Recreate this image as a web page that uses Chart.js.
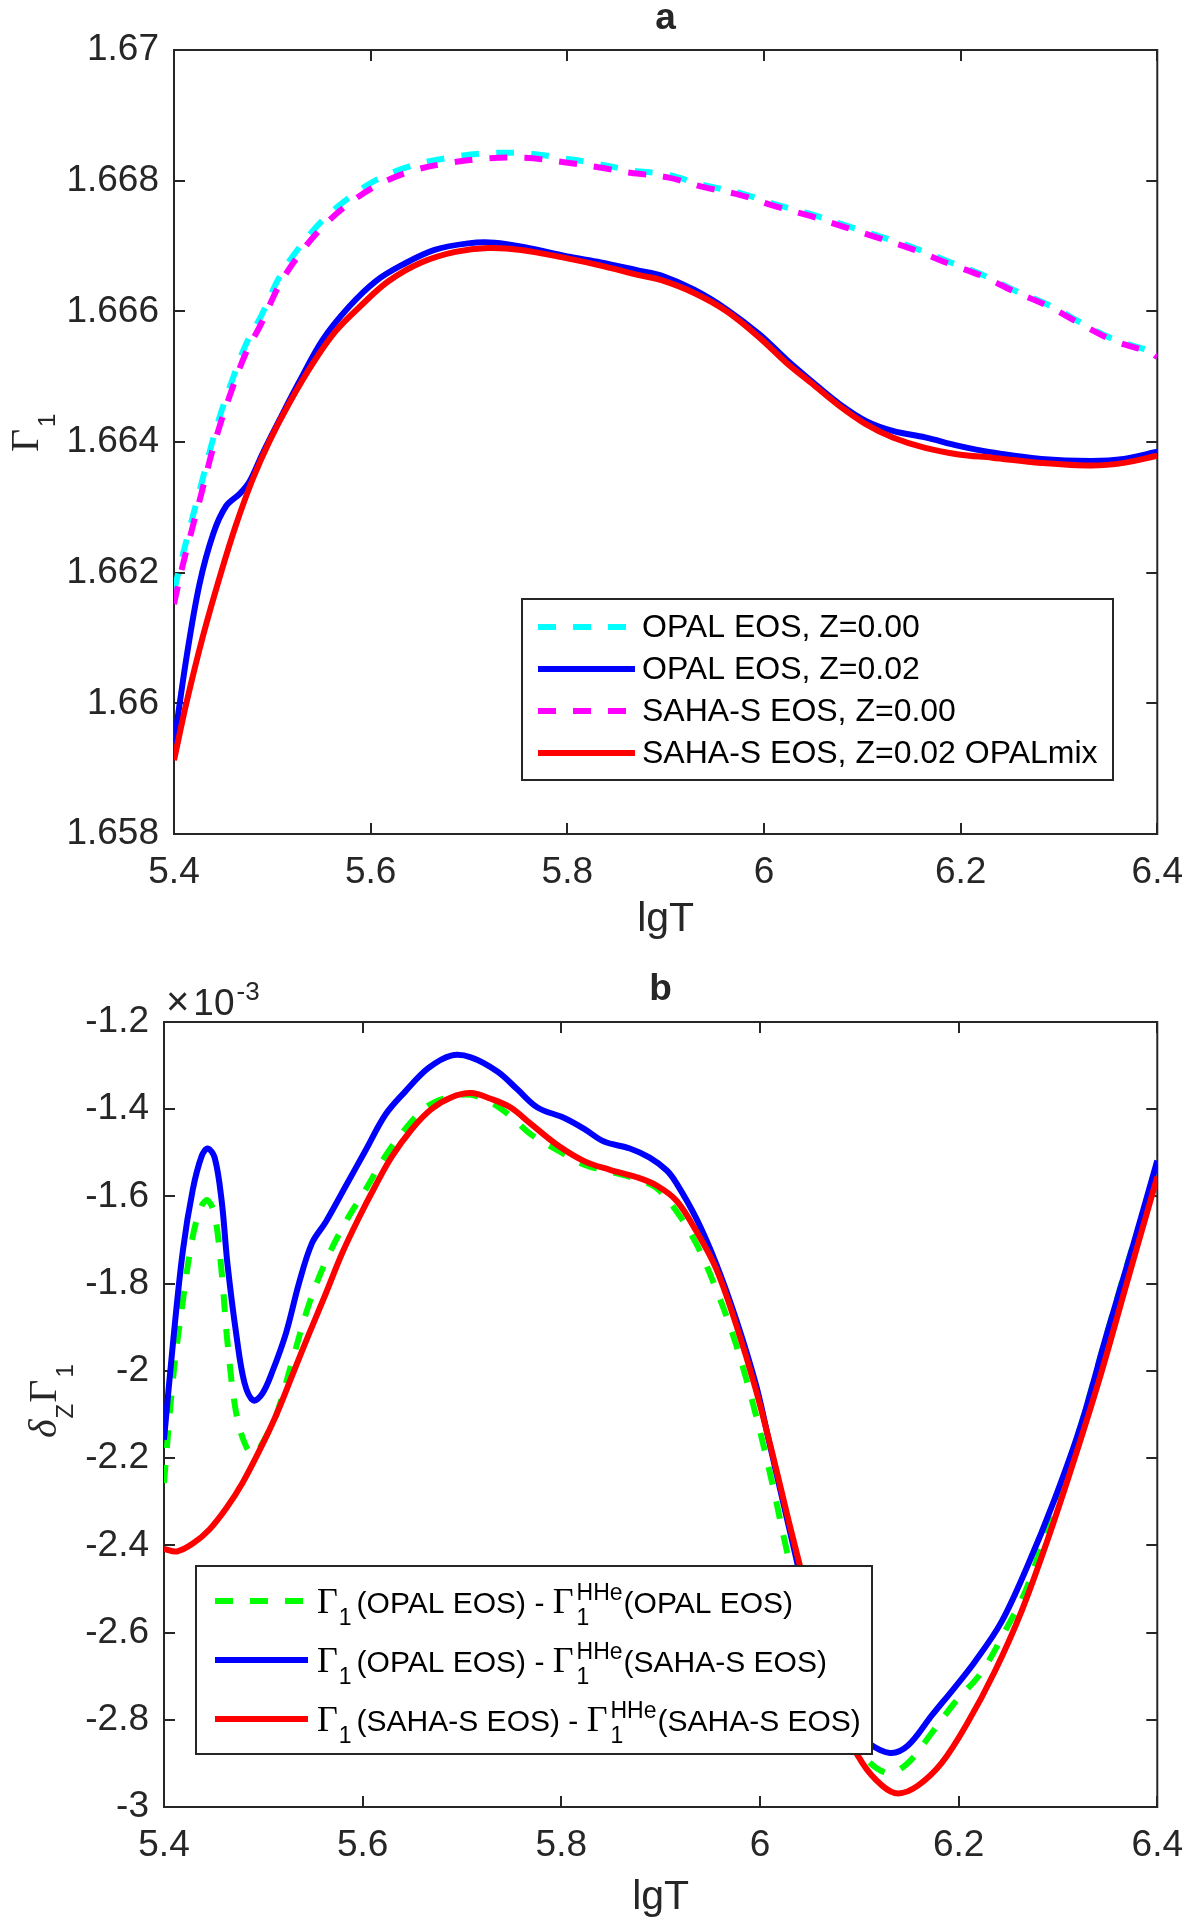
<!DOCTYPE html>
<html>
<head>
<meta charset="utf-8">
<title>Gamma1 vs lgT</title>
<script src="https://cdn.jsdelivr.net/npm/chart.js@4.4.1/dist/chart.umd.min.js"></script>
<style>
  html, body { margin: 0; padding: 0; background: #fff; }
  .panel { position: absolute; left: 0; width: 1200px; }
  #wrapA { top: 0; height: 960px; }
  #wrapB { top: 960px; height: 969px; }
</style>
</head>
<body>
<div class="panel" id="wrapA"><canvas id="chartA"></canvas></div>
<div class="panel" id="wrapB"><canvas id="chartB"></canvas></div>
<script>
// Two stacked MATLAB-style panels: (a) Gamma_1 vs lgT, (b) delta_Z Gamma_1 vs lgT.
// Values.

const SANS = '"Liberation Sans", Arial, Helvetica, sans-serif';
const SERIF = '"Liberation Serif", "Times New Roman", serif';
const INK = '#262626';

// ---- shared x axis ----
const X_TICKS = [5.4, 5.6, 5.8, 6.0, 6.2, 6.4];
const X_TICK_LABELS = ['5.4', '5.6', '5.8', '6', '6.2', '6.4'];

// ---- panel a ----
const A_Y_TICKS = [1.658, 1.660, 1.662, 1.664, 1.666, 1.668, 1.670];
const A_Y_TICK_LABELS = ['1.658', '1.66', '1.662', '1.664', '1.666', '1.668', '1.67'];
const A_LABELS = ['OPAL EOS, Z=0.00', 'OPAL EOS, Z=0.02', 'SAHA-S EOS, Z=0.00', 'SAHA-S EOS, Z=0.02 OPALmix'];

const A_LGT_Z0 = [5.400, 5.409, 5.428, 5.438, 5.448, 5.460, 5.473, 5.489, 5.507, 5.527, 5.551, 5.578,
    5.608, 5.642, 5.679, 5.719, 5.756, 5.793, 5.830, 5.864, 5.902, 5.939, 5.976, 6.011, 6.047, 6.082,
    6.117, 6.153, 6.188, 6.222, 6.255, 6.289, 6.323, 6.356, 6.393, 6.400];
const A_OPAL_Z0 = [1.66172, 1.66228, 1.66337, 1.66395, 1.66446, 1.66498, 1.66549, 1.66594, 1.66652, 1.66697,
    1.66739, 1.66774, 1.66803, 1.66823, 1.66835, 1.66842, 1.66842, 1.66835, 1.66826, 1.66816, 1.66809,
    1.66793, 1.66781, 1.66764, 1.66749, 1.66732, 1.66715, 1.66697, 1.66676, 1.66656, 1.66632, 1.66610,
    1.66582, 1.66557, 1.66539, 1.66532];
const A_SAHA_Z0 = [1.66152, 1.66212, 1.66322, 1.66381, 1.66432, 1.66485, 1.66536, 1.66582, 1.66640, 1.66686,
    1.66729, 1.66765, 1.66794, 1.66815, 1.66827, 1.66834, 1.66835, 1.66829, 1.66821, 1.66812, 1.66805,
    1.66790, 1.66778, 1.66761, 1.66746, 1.66729, 1.66712, 1.66694, 1.66673, 1.66654, 1.66630, 1.66608,
    1.66580, 1.66555, 1.66537, 1.66530];

const A_LGT_OPAL_Z2 = [5.400, 5.413, 5.426, 5.440, 5.453, 5.467, 5.477, 5.490, 5.507, 5.527, 5.551, 5.578,
    5.605, 5.632, 5.665, 5.699, 5.726, 5.760, 5.800, 5.834, 5.874, 5.895, 5.929, 5.962, 5.996, 6.023,
    6.050, 6.077, 6.104, 6.131, 6.164, 6.198, 6.232, 6.282, 6.333, 6.366, 6.400];
const A_OPAL_Z2 = [1.65938, 1.66073, 1.66183, 1.66260, 1.66302, 1.66321, 1.66340, 1.66382, 1.66433, 1.66491,
    1.66556, 1.66607, 1.66646, 1.66671, 1.66694, 1.66704, 1.66705, 1.66697, 1.66684, 1.66675, 1.66662,
    1.66655, 1.66633, 1.66603, 1.66564, 1.66526, 1.66491, 1.66458, 1.66432, 1.66417, 1.66407, 1.66394,
    1.66384, 1.66374, 1.66371, 1.66374, 1.66385];

const A_LGT_SAHA_Z2 = [5.400, 5.413, 5.430, 5.447, 5.463, 5.480, 5.497, 5.517, 5.541, 5.564, 5.591, 5.618,
    5.652, 5.686, 5.719, 5.753, 5.800, 5.834, 5.874, 5.895, 5.929, 5.962, 5.996, 6.023, 6.050, 6.077,
    6.104, 6.131, 6.164, 6.198, 6.232, 6.282, 6.333, 6.366, 6.400];
const A_SAHA_Z2 = [1.65913, 1.66003, 1.66106, 1.66196, 1.66273, 1.66343, 1.66401, 1.66459, 1.66520, 1.66569,
    1.66610, 1.66646, 1.66675, 1.66691, 1.66697, 1.66694, 1.66681, 1.66670, 1.66655, 1.66648, 1.66628,
    1.66600, 1.66559, 1.66521, 1.66488, 1.66455, 1.66427, 1.66407, 1.66391, 1.66381, 1.66376, 1.66368,
    1.66364, 1.66368, 1.66379];

// ---- panel b (values in units of 1e-3) ----
const B_Y_TICKS = [-3.0, -2.8, -2.6, -2.4, -2.2, -2.0, -1.8, -1.6, -1.4, -1.2];
const B_Y_TICK_LABELS = ['-3', '-2.8', '-2.6', '-2.4', '-2.2', '-2', '-1.8', '-1.6', '-1.4', '-1.2'];

const B_LGT_OO = [5.400, 5.409, 5.419, 5.429, 5.438, 5.444, 5.451, 5.458, 5.464, 5.473, 5.483, 5.491,
    5.499, 5.513, 5.529, 5.546, 5.563, 5.583, 5.603, 5.623, 5.643, 5.666, 5.689, 5.709, 5.729, 5.749,
    5.769, 5.796, 5.823, 5.849, 5.876, 5.896, 5.916, 5.936, 5.956, 5.976, 5.996, 6.013, 6.026, 6.039,
    6.063, 6.086, 6.106, 6.129, 6.149, 6.173, 6.196, 6.223, 6.249, 6.269, 6.296, 6.323, 6.349, 6.376, 6.400];
const B_OPAL_OPAL = [-2.257, -2.019, -1.839, -1.691, -1.621, -1.609, -1.642, -1.773, -1.937, -2.101, -2.175,
    -2.191, -2.166, -2.101, -1.978, -1.847, -1.748, -1.658, -1.584, -1.507, -1.445, -1.392, -1.371, -1.367,
    -1.384, -1.416, -1.457, -1.494, -1.527, -1.543, -1.560, -1.581, -1.634, -1.709, -1.813, -1.940, -2.102,
    -2.264, -2.402, -2.518, -2.691, -2.818, -2.888, -2.922, -2.899, -2.830, -2.761, -2.691, -2.587, -2.495,
    -2.310, -2.125, -1.917, -1.709, -1.547];

const B_LGT_OS = [5.400, 5.409, 5.419, 5.429, 5.438, 5.444, 5.451, 5.458, 5.464, 5.473, 5.481, 5.490,
    5.499, 5.509, 5.523, 5.536, 5.549, 5.563, 5.583, 5.603, 5.623, 5.643, 5.666, 5.689, 5.709, 5.736,
    5.756, 5.776, 5.803, 5.823, 5.843, 5.869, 5.889, 5.906, 5.916, 5.936, 5.956, 5.976, 5.996, 6.009,
    6.023, 6.036, 6.049, 6.069, 6.089, 6.109, 6.131, 6.149, 6.173, 6.196, 6.216, 6.243, 6.269, 6.296,
    6.323, 6.349, 6.376, 6.400];
const B_OPAL_SAHA = [-2.158, -1.937, -1.724, -1.584, -1.507, -1.490, -1.511, -1.609, -1.757, -1.920, -2.027,
    -2.068, -2.052, -2.002, -1.912, -1.798, -1.707, -1.658, -1.576, -1.494, -1.412, -1.359, -1.306, -1.277,
    -1.281, -1.314, -1.355, -1.396, -1.420, -1.445, -1.474, -1.490, -1.511, -1.540, -1.570, -1.651, -1.755,
    -1.882, -2.032, -2.160, -2.298, -2.425, -2.553, -2.703, -2.807, -2.853, -2.876, -2.859, -2.790, -2.726,
    -2.668, -2.576, -2.449, -2.298, -2.125, -1.917, -1.709, -1.518];

const B_LGT_SS = [5.400, 5.413, 5.429, 5.446, 5.463, 5.479, 5.496, 5.513, 5.529, 5.546, 5.563, 5.579,
    5.596, 5.613, 5.629, 5.649, 5.669, 5.689, 5.709, 5.729, 5.749, 5.769, 5.796, 5.823, 5.849, 5.876,
    5.896, 5.916, 5.936, 5.956, 5.976, 5.996, 6.013, 6.029, 6.043, 6.063, 6.083, 6.103, 6.123, 6.139,
    6.159, 6.183, 6.209, 6.236, 6.263, 6.289, 6.316, 6.343, 6.369, 6.400];
const B_SAHA_SAHA = [-2.408, -2.414, -2.396, -2.363, -2.314, -2.257, -2.183, -2.101, -2.011, -1.915, -1.822,
    -1.732, -1.650, -1.575, -1.510, -1.447, -1.400, -1.373, -1.363, -1.376, -1.396, -1.433, -1.482, -1.519,
    -1.539, -1.556, -1.575, -1.610, -1.680, -1.766, -1.894, -2.044, -2.194, -2.345, -2.472, -2.657, -2.807,
    -2.899, -2.951, -2.969, -2.951, -2.899, -2.807, -2.691, -2.553, -2.391, -2.206, -2.009, -1.801, -1.555];

const CYAN = '#00ffff', BLUE = '#0000ff', MAGENTA = '#ff00ff', RED = '#ff0000', GREEN = '#00ff00';
const LINE_W = 6;
const DASH = [18, 17];

function pts(xs, ys) {
    return xs.map((x, i) => ({ x: x, y: ys[i] }));
}

function series(data, color, dashed, order) {
    return {
        data: data,
        borderColor: color,
        borderWidth: LINE_W,
        borderDash: dashed ? DASH : [],
        pointRadius: 0,
        tension: 0.35,
        fill: false,
        order: order
    };
}

// Draws a run of text pieces (for sub/superscripts). A piece with stack:true
// does not advance the pen, so the next piece lands on top of it.
function drawRich(ctx, parts, x, y, color) {
    let cx = x;
    ctx.fillStyle = color;
    ctx.textBaseline = 'alphabetic';
    ctx.textAlign = 'left';
    parts.forEach(p => {
        ctx.font = p.font;
        const dx = p.dx || 0;
        ctx.fillText(p.t, cx + dx, y + (p.dy || 0));
        if (!p.stack) cx += dx + ctx.measureText(p.t).width;
    });
    return cx;
}

// MATLAB style box with inward ticks on all four sides.
const matlabAxes = {
    id: 'matlabAxes',
    beforeDatasetsDraw(chart) {
        const { ctx, chartArea: a } = chart;
        const xs = chart.scales.x, ys = chart.scales.y;
        const len = 11;
        ctx.save();
        ctx.strokeStyle = INK;
        ctx.lineWidth = 2;
        ctx.beginPath();
        xs.ticks.forEach(t => {
            const px = Math.round(xs.getPixelForValue(t.value));
            ctx.moveTo(px, a.bottom); ctx.lineTo(px, a.bottom - len);
            ctx.moveTo(px, a.top); ctx.lineTo(px, a.top + len);
        });
        ys.ticks.forEach(t => {
            const py = Math.round(ys.getPixelForValue(t.value));
            ctx.moveTo(a.left, py); ctx.lineTo(a.left + len, py);
            ctx.moveTo(a.right, py); ctx.lineTo(a.right - len, py);
        });
        ctx.stroke();
        ctx.strokeRect(a.left, a.top, a.right - a.left, a.bottom - a.top);
        ctx.restore();
    }
};

// Boxed legend placed inside the axes, like MATLAB's.
const boxLegend = {
    id: 'boxLegend',
    afterDatasetsDraw(chart, args, opts) {
        if (!opts || !opts.rows) return;
        const ctx = chart.ctx;
        ctx.save();
        ctx.fillStyle = '#fff';
        ctx.fillRect(opts.left, opts.top, opts.right - opts.left, opts.bottom - opts.top);
        ctx.strokeStyle = INK;
        ctx.lineWidth = 2;
        ctx.strokeRect(opts.left, opts.top, opts.right - opts.left, opts.bottom - opts.top);
        opts.rows.forEach(r => {
            ctx.beginPath();
            ctx.strokeStyle = r.color;
            ctx.lineWidth = LINE_W;
            ctx.setLineDash(r.dashed ? DASH : []);
            ctx.moveTo(opts.lineFrom, r.y);
            ctx.lineTo(opts.lineTo, r.y);
            ctx.stroke();
            ctx.setLineDash([]);
            if (Array.isArray(r.label)) {
                drawRich(ctx, r.label, opts.textX, r.y + opts.baseShift, '#000');
            } else {
                ctx.fillStyle = '#000';
                ctx.font = opts.font;
                ctx.textBaseline = 'middle';
                ctx.textAlign = 'left';
                ctx.fillText(r.label, opts.textX, r.y + 1);
            }
        });
        ctx.restore();
    }
};

// Free text items (rotated axis labels with sub/superscripts, exponent note).
const richText = {
    id: 'richText',
    afterDraw(chart, args, opts) {
        if (!opts || !opts.items) return;
        const ctx = chart.ctx;
        opts.items.forEach(it => {
            ctx.save();
            ctx.translate(it.x, it.y);
            if (it.rotate) ctx.rotate(it.rotate);
            drawRich(ctx, it.parts, 0, 0, INK);
            ctx.restore();
        });
    }
};

function xScale(axisHeight, titlePadBottom) {
    return {
        type: 'linear',
        min: 5.4,
        max: 6.4,
        afterBuildTicks: s => { s.ticks = X_TICKS.map(v => ({ value: v })); },
        afterFit: s => { s.height = axisHeight; },
        grid: { display: false, drawTicks: false },
        border: { display: false },
        ticks: {
            font: { family: SANS, size: 37 },
            color: INK,
            padding: 17,
            maxRotation: 0,
            autoSkip: false,
            callback: (v, i) => X_TICK_LABELS[i]
        },
        title: {
            display: true,
            text: 'lgT',
            color: INK,
            font: { family: SANS, size: 41 },
            padding: { top: 0, bottom: titlePadBottom }
        }
    };
}

function yScale(min, max, tickVals, tickLabels, axisWidth) {
    return {
        type: 'linear',
        min: min,
        max: max,
        afterBuildTicks: s => { s.ticks = tickVals.map(v => ({ value: v })); },
        afterFit: s => { s.width = axisWidth; },
        grid: { display: false, drawTicks: false },
        border: { display: false },
        ticks: {
            font: { family: SANS, size: 37 },
            color: INK,
            padding: 15,
            autoSkip: false,
            callback: (v, i) => tickLabels[i]
        }
    };
}

// fullSize:false keeps the title centred over the plot box, not the canvas
function titleOpts(text, padTop, padBottom) {
    return {
        display: true,
        fullSize: false,
        text: text,
        color: INK,
        font: { family: SANS, size: 37, weight: 'bold', lineHeight: 0.8 },
        padding: { top: padTop, bottom: padBottom }
    };
}

const commonOpts = {
    responsive: true,
    maintainAspectRatio: false,
    animation: false,
    events: []
};

// ---------------- panel a ----------------
new Chart(document.getElementById('chartA'), {
    type: 'line',
    data: {
        datasets: [
            series(pts(A_LGT_Z0, A_OPAL_Z0), CYAN, true, 3),
            series(pts(A_LGT_OPAL_Z2, A_OPAL_Z2), BLUE, false, 2),
            series(pts(A_LGT_Z0, A_SAHA_Z0), MAGENTA, true, 1),
            series(pts(A_LGT_SAHA_Z2, A_SAHA_Z2), RED, false, 0)
        ]
    },
    options: Object.assign({}, commonOpts, {
        layout: { padding: { left: 0, right: 36, top: 0, bottom: 0 } },
        scales: {
            x: xScale(126, 16),
            y: yScale(1.658, 1.670, A_Y_TICKS, A_Y_TICK_LABELS, 174)
        },
        plugins: {
            legend: { display: false },
            tooltip: { enabled: false },
            title: titleOpts('a', 4, 16.4),
            boxLegend: {
                left: 522, top: 599, right: 1113, bottom: 780,
                lineFrom: 538, lineTo: 635, textX: 642,
                font: '32px ' + SANS, baseShift: 11,
                rows: [
                    { y: 627, color: CYAN, dashed: true, label: A_LABELS[0] },
                    { y: 669, color: BLUE, dashed: false, label: A_LABELS[1] },
                    { y: 711, color: MAGENTA, dashed: true, label: A_LABELS[2] },
                    { y: 753, color: RED, dashed: false, label: A_LABELS[3] }
                ]
            },
            richText: {
                items: [{
                    x: 38, y: 452, rotate: -Math.PI / 2,
                    parts: [
                        { t: 'Γ', font: '40px ' + SERIF },
                        { t: '1', font: '24px ' + SANS, dy: 17, dx: 2 }
                    ]
                }]
            }
        }
    }),
    plugins: [matlabAxes, boxLegend, richText]
});

// ---------------- panel b ----------------
function legendB(left, right) {
    return [
        { t: 'Γ', font: '36px ' + SERIF },
        { t: '1', font: '23px ' + SANS, dy: 12, dx: 1 },
        { t: left + ' - ', font: '30px ' + SANS, dx: 5 },
        { t: 'Γ', font: '36px ' + SERIF },
        { t: '1', font: '23px ' + SANS, dy: 12, dx: 3, stack: true },
        { t: 'HHe', font: '23px ' + SANS, dy: -13, dx: 3 },
        { t: right, font: '30px ' + SANS, dx: 1 }
    ];
}

new Chart(document.getElementById('chartB'), {
    type: 'line',
    data: {
        datasets: [
            series(pts(B_LGT_OO, B_OPAL_OPAL), GREEN, true, 2),
            series(pts(B_LGT_OS, B_OPAL_SAHA), BLUE, false, 1),
            series(pts(B_LGT_SS, B_SAHA_SAHA), RED, false, 0)
        ]
    },
    options: Object.assign({}, commonOpts, {
        layout: { padding: { left: 0, right: 36, top: 0, bottom: 0 } },
        scales: {
            x: xScale(122, 7),
            y: yScale(-3.0, -1.2, B_Y_TICKS, B_Y_TICK_LABELS, 164)
        },
        plugins: {
            legend: { display: false },
            tooltip: { enabled: false },
            title: titleOpts('b', 15, 17.4),
            boxLegend: {
                left: 196, top: 606, right: 872, bottom: 794,
                lineFrom: 215, lineTo: 308, textX: 317,
                font: '30px ' + SANS, baseShift: 12,
                rows: [
                    { y: 641, color: GREEN, dashed: true, label: legendB('(OPAL EOS)', '(OPAL EOS)') },
                    { y: 700, color: BLUE, dashed: false, label: legendB('(OPAL EOS)', '(SAHA-S EOS)') },
                    { y: 759, color: RED, dashed: false, label: legendB('(SAHA-S EOS)', '(SAHA-S EOS)') }
                ]
            },
            richText: {
                items: [
                    {
                        x: 56, y: 478, rotate: -Math.PI / 2,
                        parts: [
                            { t: 'δ', font: 'italic 40px ' + SERIF },
                            { t: 'Z', font: '24px ' + SANS, dy: 17, dx: 1 },
                            { t: 'Γ', font: '40px ' + SERIF, dx: 1 },
                            { t: '1', font: '24px ' + SANS, dy: 17, dx: 2 }
                        ]
                    },
                    {
                        x: 166, y: 55,
                        parts: [
                            { t: '×', font: '40px ' + SANS },
                            { t: '10', font: '37px ' + SANS, dx: 4 },
                            { t: '-3', font: '26px ' + SANS, dy: -15, dx: 2 }
                        ]
                    }
                ]
            }
        }
    }),
    plugins: [matlabAxes, boxLegend, richText]
});
</script>
</body>
</html>
